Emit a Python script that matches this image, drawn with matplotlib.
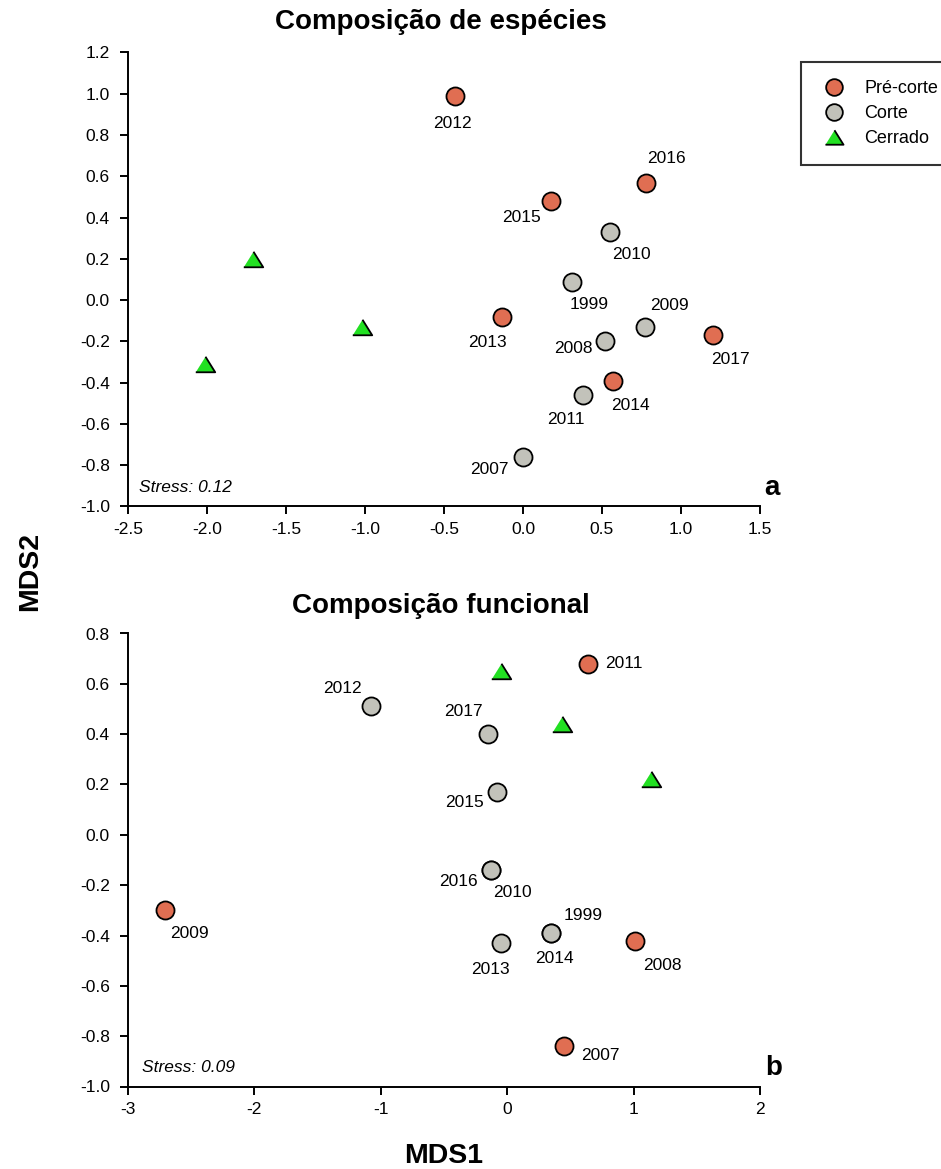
import matplotlib
matplotlib.use("Agg")
import matplotlib.pyplot as plt
import numpy as np
from matplotlib.lines import Line2D

plt.rcParams['font.family'] = ['Liberation Sans', 'DejaVu Sans']
plt.rcParams['axes.unicode_minus'] = False

# ---- Data: panel a (Composição de espécies) ----
a_labels = ['2012', '2016', '2015', '2013', '2017', '2014',
            '2010', '1999', '2009', '2008', '2011', '2007',
            'c1', 'c2', 'c3']
a_x = [-0.43, 0.78, 0.18, -0.13, 1.20, 0.57,
       0.55, 0.31, 0.77, 0.52, 0.38, 0.00,
       -2.01, -1.71, -1.02]
a_y = [0.99, 0.57, 0.48, -0.08, -0.17, -0.39,
       0.33, 0.09, -0.13, -0.20, -0.46, -0.76,
       -0.31, 0.20, -0.13]
a_group = ['Pré-corte'] * 6 + ['Corte'] * 6 + ['Cerrado'] * 3

# ---- Data: panel b (Composição funcional) ----
b_labels = ['2011', '2009', '2008', '2007',
            '2012', '2017', '2015', '2016', '2010', '2013', '1999', '2014',
            'c1', 'c2', 'c3']
b_x = [0.64, -2.71, 1.01, 0.45,
       -1.08, -0.15, -0.08, -0.13, -0.13, -0.05, 0.35, 0.35,
       -0.05, 0.43, 1.14]
b_y = [0.68, -0.30, -0.42, -0.84,
       0.51, 0.40, 0.17, -0.14, -0.14, -0.43, -0.39, -0.39,
       0.65, 0.44, 0.22]
b_group = ['Pré-corte'] * 4 + ['Corte'] * 8 + ['Cerrado'] * 3

groups = ['Pré-corte', 'Corte', 'Cerrado']
a_xticks = [-2.5, -2.0, -1.5, -1.0, -0.5, 0.0, 0.5, 1.0, 1.5]
a_yticks = [-1.0, -0.8, -0.6, -0.4, -0.2, 0.0, 0.2, 0.4, 0.6, 0.8, 1.0, 1.2]
b_xticks = [-3, -2, -1, 0, 1, 2]
b_yticks = [-1.0, -0.8, -0.6, -0.4, -0.2, 0.0, 0.2, 0.4, 0.6, 0.8]

# ---- Styling (label offsets in pixels) ----
a_off = {'2012': (-3, -28), '2016': (20, 24), '2015': (-30, -16), '2013': (-15, -26),
         '2017': (18, -24), '2014': (17, -25), '2010': (22, -22), '1999': (17, -23),
         '2009': (25, 21), '2008': (-32, -7), '2011': (-17, -24), '2007': (-34, -13)}
b_off = {'2011': (36, 0), '2009': (25, -23), '2008': (28, -25), '2007': (36, -9),
         '2012': (-28, 18), '2017': (-25, 23), '2015': (-33, -10), '2016': (-32, -11),
         '2010': (22, -22), '2013': (-10, -26), '1999': (32, 17), '2014': (3, -26)}

tri = [(-1, -0.8), (1, -0.8), (0, 0.8)]
style = {
    'Pré-corte': dict(marker='o', color='#E06E52', size=13),
    'Corte': dict(marker='o', color='#C2C2BA', size=13),
    'Cerrado': dict(marker=tri, color='#22E022', size=14),
}

W, H = 941, 1169
fig = plt.figure(figsize=(W / 100, H / 100), dpi=100)

ax_a = fig.add_axes([128 / W, 1 - 506.5 / H, 632 / W, 454 / H])
ax_b = fig.add_axes([128 / W, 1 - 1086.5 / H, 632 / W, 453 / H])


def draw(ax, labels, xs, ys, grp, offs, xlim, ylim, xticks, yticks, xfmt, yfmt):
    for g in groups:
        st = style[g]
        px = [x for x, gg in zip(xs, grp) if gg == g]
        py = [y for y, gg in zip(ys, grp) if gg == g]
        ax.plot(px, py, linestyle='none', marker=st['marker'], markersize=st['size'],
                markerfacecolor=st['color'], markeredgecolor='black',
                markeredgewidth=1.3, zorder=3, clip_on=False)
    for lab, x, y in zip(labels, xs, ys):
        if lab in offs:
            dx, dy = offs[lab]
            ax.annotate(lab, (x, y), xytext=(dx, dy), textcoords='offset pixels',
                        ha='center', va='center', fontsize=12.5, zorder=4)
    ax.set_xlim(*xlim)
    ax.set_ylim(*ylim)
    ax.set_xticks(xticks)
    ax.set_yticks(yticks)
    ax.set_xticklabels([xfmt.format(v) for v in xticks])
    ax.set_yticklabels([yfmt.format(v) for v in yticks])
    for s in ['top', 'right']:
        ax.spines[s].set_visible(False)
    for s in ['left', 'bottom']:
        ax.spines[s].set_linewidth(1.4)
    ax.tick_params(direction='out', length=6, width=1.4, labelsize=12.5)
    ax.tick_params(axis='y', pad=7)
    ax.tick_params(axis='x', pad=5)


draw(ax_a, a_labels, a_x, a_y, a_group, a_off, (-2.5, 1.5), (-1.0, 1.2),
     a_xticks, a_yticks, '{:.1f}', '{:.1f}')
draw(ax_b, b_labels, b_x, b_y, b_group, b_off, (-3, 2), (-1.0, 0.8),
     b_xticks, b_yticks, '{:d}', '{:.1f}')

# Titles and axis labels
fig.text(441 / W, 1 - 22 / H, 'Composição de espécies', ha='center', va='center',
         fontsize=20, fontweight='bold')
fig.text(441 / W, 1 - 606 / H, 'Composição funcional', ha='center', va='center',
         fontsize=20, fontweight='bold')
fig.text(30 / W, 1 - 571 / H, 'MDS2', ha='center', va='center', rotation=90,
         fontsize=20.5, fontweight='bold')
fig.text(444 / W, 1 - 1156 / H, 'MDS1', ha='center', va='center',
         fontsize=20.5, fontweight='bold')

# Stress annotations and panel letters
fig.text(139 / W, 1 - 488 / H, 'Stress: 0.12', ha='left', va='center',
         fontsize=12.5, style='italic')
fig.text(142 / W, 1 - 1068 / H, 'Stress: 0.09', ha='left', va='center',
         fontsize=12.5, style='italic')
fig.text(772 / W, 1 - 488 / H, 'a', ha='center', va='center', fontsize=20,
         fontweight='bold')
fig.text(774 / W, 1 - 1068 / H, 'b', ha='center', va='center', fontsize=20,
         fontweight='bold')

# Legend
handles = [Line2D([], [], linestyle='none', marker=style[g]['marker'],
                  markersize=style[g]['size'] - 1, markerfacecolor=style[g]['color'],
                  markeredgecolor='black', markeredgewidth=1.3) for g in groups]
leg = fig.legend(handles, groups, loc='upper left',
                 bbox_to_anchor=(801 / W, 1 - 62 / H), bbox_transform=fig.transFigure,
                 fontsize=13, frameon=True, fancybox=False, borderpad=1.0,
                 handlelength=1.6, handletextpad=0.9, labelspacing=0.45,
                 borderaxespad=0)
leg.get_frame().set_edgecolor('black')
leg.get_frame().set_linewidth(1.5)

fig.savefig('out.png', dpi=100)
